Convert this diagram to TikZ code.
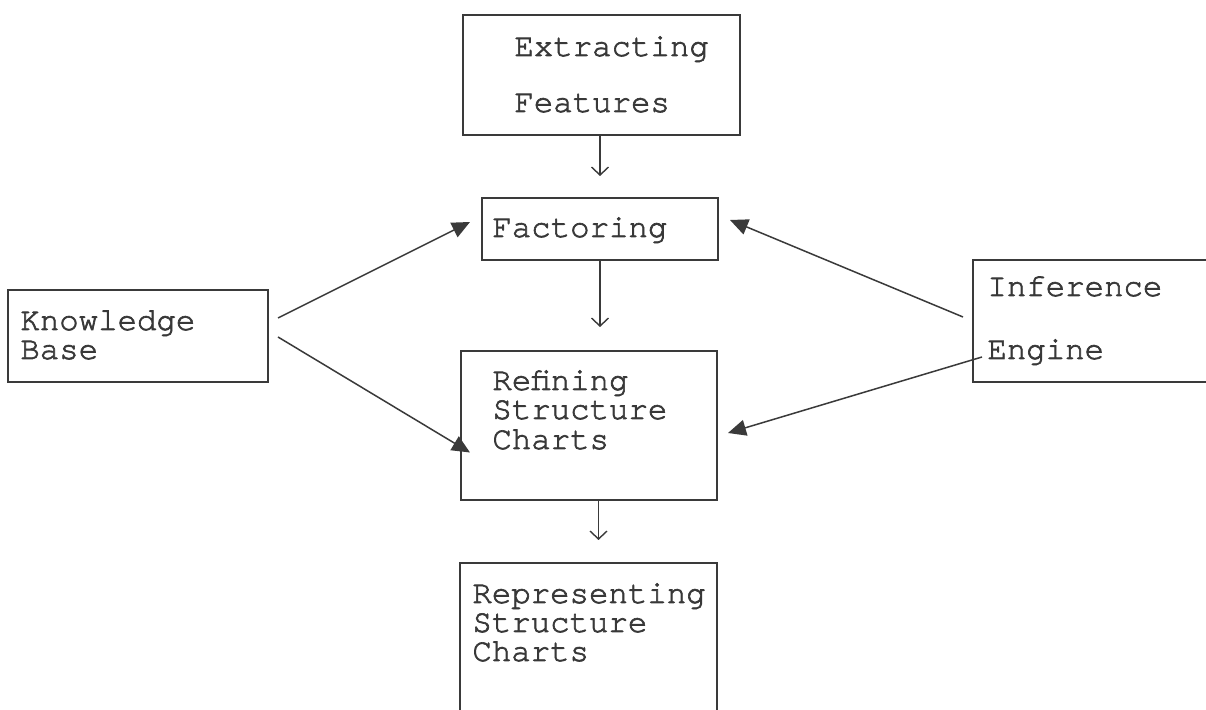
\documentclass[tikz,border=0pt]{standalone}
\usepackage{fontspec}
\newfontfamily\boxmono[FakeBold=2]{texgyrecursor-regular.otf}
\usetikzlibrary{arrows.meta,calc}

\definecolor{ink}{HTML}{3A3A3A}
\definecolor{txt}{HTML}{383838}

\tikzset{
  box/.style={draw=ink, line width=1pt, inner sep=0pt, outer sep=0pt},
  lbl/.style={anchor=base west, inner sep=0pt, text=txt,
              font=\boxmono\fontsize{16.2}{18}\selectfont},
  flow/.style={draw=ink, line width=0.7pt, -{Straight Barb[length=4pt,width=8.5pt]}},
  feed/.style={draw=ink, line width=0.75pt, -{Triangle[length=9pt,width=8pt]}},
}

\begin{document}
\begin{tikzpicture}[x=0.5pt,y=-0.5pt]
  \clip (0,0) rectangle (1206,710);
  \fill[white] (0,0) rectangle (1206,710);

  % boxes
  \node[box, minimum width=138.5pt, minimum height=60pt]  (ef)  at (601.5,75)   {};
  \node[box, minimum width=118pt,   minimum height=31pt]  (fac) at (600,229)    {};
  \node[box, minimum width=130pt,   minimum height=46pt]  (kb)  at (138,336)    {};
  \node[box, minimum width=120.5pt, minimum height=61pt]  (inf) at (1093.5,321) {};
  \node[box, minimum width=128pt,   minimum height=74.5pt](ref) at (589,425.5)  {};
  \node[box, minimum width=128.5pt, minimum height=88.5pt](rep) at (588.5,651.5){};

  % box texts
  \node[lbl] (efa) at (514,56)  {Extracting};
  \node[lbl] (efb) at (514,112) {Features};
  \node[lbl] (faca) at (492,237) {Factoring};
  \node[lbl] (kba) at (20,330)  {Knowledge};
  \node[lbl] (kbb) at (20,359)  {Base};
  \node[lbl] (infa) at (987,296) {Inference};
  \node[lbl] (infb) at (987,359) {Engine};
  \node[lbl] (refa) at (492,390) {Refining};
  \node[lbl] (refb) at (492,419) {Structure};
  \node[lbl] (refc) at (492,449) {Charts};
  \node[lbl] (repa) at (472,603) {Representing};
  \node[lbl] (repb) at (472,632) {Structure};
  \node[lbl] (repc) at (472,661) {Charts};

  % main flow
  \coordinate (t1) at ($(fac.north)+(0,-22)$);
  \coordinate (t2) at ($(ref.north)+(11,-24)$);
  \coordinate (t3) at ($(rep.north)+(10,-23)$);
  \draw[flow] (ef.south -| t1) -- (t1);
  \draw[flow] (fac.south -| t2) -- (t2);
  \draw[flow] (ref.south -| t3) -- (t3);

  % knowledge base and inference engine feeds
  \draw[feed] ($(kb.north east)+(10,28)$) -- ($(fac.west)+(-12,-7)$);
  \draw[feed] ($(kb.north east)+(10,47)$) -- ($(ref.west)+(9,27)$);
  \draw[feed] ($(inf.west)+(-10,-4)$) -- ($(fac.east)+(12,-9)$);
  \draw[feed] ($(inf.west)+(9,36)$) -- ($(ref.east)+(11,7.5)$);
\end{tikzpicture}
\end{document}
